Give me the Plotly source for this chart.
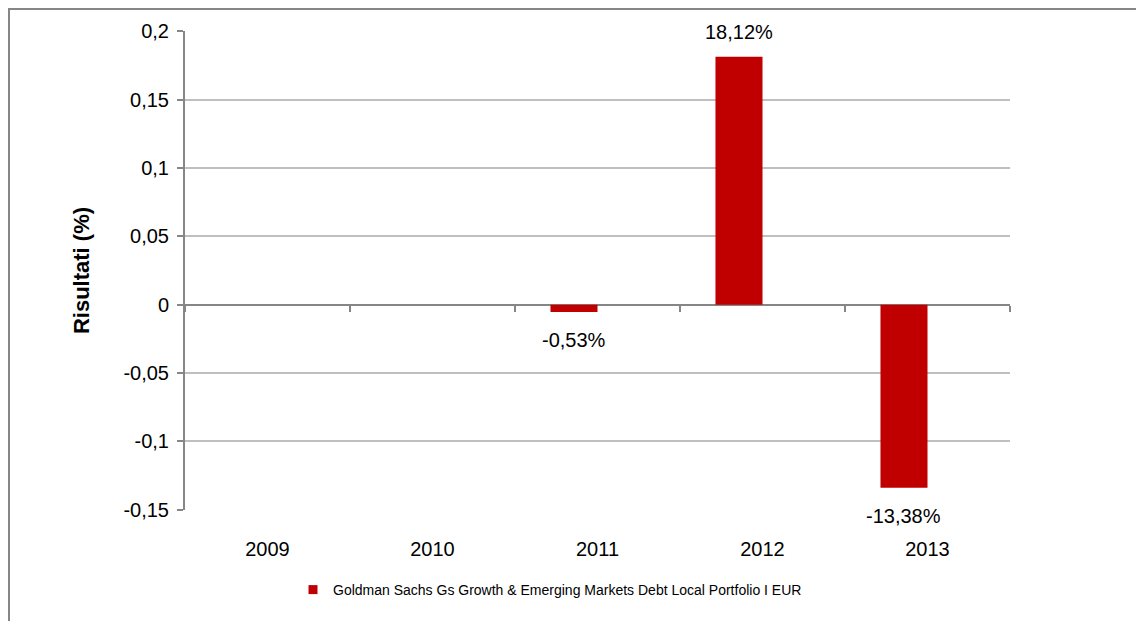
import plotly.graph_objects as go

years = ["2009", "2010", "2011", "2012", "2013"]
returns = [None, None, -0.0053, 0.1812, -0.1338]
series_name = "Goldman Sachs Gs Growth & Emerging Markets Debt Local Portfolio I EUR"
y_tickvals = [0.2, 0.15, 0.1, 0.05, 0, -0.05, -0.1, -0.15]
y_ticktext = ["0,2", "0,15", "0,1", "0,05", "0", "-0,05", "-0,1", "-0,15"]
y_range = [-0.1501, 0.2001]

def fmt(v):
    if v is None:
        return ""
    return ("%.2f%%" % (v * 100)).replace(".", ",")

labels = [fmt(v) for v in returns]

RED = "#C00000"
AXIS = "#868686"
GRID = "#BFBFBF"
FONT = "Liberation Sans, Arial, sans-serif"

# page body adds an 8px margin, so figure coords = screen coords - 8
OFF = 8
W, H = 1144, 621
pw, ph = 825, 479
L, T = 185 - OFF, 31 - OFF
R, B = W - L - pw, H - T - ph
BAR_W = 0.285
cat_px = pw / len(years)

fig = go.Figure()
fig.add_trace(go.Bar(
    x=years, y=returns,
    marker=dict(color=RED, line=dict(width=0)),
    width=BAR_W, offset=-BAR_W, cliponaxis=False, showlegend=False,
    name=series_name,
))
# legend entry (small square) and carrier for the zero-line tick axis
fig.add_trace(go.Scatter(
    x=years, y=[None] * len(years), xaxis="x2", mode="markers",
    marker=dict(symbol="square", size=9, color=RED),
    name=series_name, showlegend=True,
))

annotations = []
for i, (v, lab) in enumerate(zip(returns, labels)):
    if v is None:
        continue
    annotations.append(dict(
        x=i, y=v, xref="x", yref="y", text=lab, showarrow=False,
        xshift=-BAR_W / 2 * cat_px,
        yanchor="bottom" if v >= 0 else "top",
        yshift=12 if v >= 0 else -15,
        font=dict(size=20, color="black", family=FONT),
    ))

zero_pos = (0 - y_range[0]) / (y_range[1] - y_range[0])

fig.update_layout(
    width=W, height=H,
    margin=dict(l=L, r=R, t=T, b=B, autoexpand=False),
    paper_bgcolor="white", plot_bgcolor="white",
    font=dict(family=FONT, color="black", size=20),
    xaxis=dict(
        type="category", categoryorder="array", categoryarray=years,
        range=[-0.5, len(years) - 0.5],
        showline=False, showgrid=False, zeroline=False, ticks="",
        tickfont=dict(size=20), ticklabelstandoff=25,
    ),
    xaxis2=dict(
        type="category", categoryorder="array", categoryarray=years,
        range=[-0.5, len(years) - 0.5],
        overlaying="x", anchor="free", position=zero_pos,
        showticklabels=False, showgrid=False, showline=False, zeroline=False,
        ticks="outside", tickson="boundaries", ticklen=6, tickwidth=2,
        tickcolor=AXIS,
    ),
    yaxis=dict(
        range=y_range, tickvals=y_tickvals, ticktext=y_ticktext,
        showgrid=True, gridcolor=GRID, gridwidth=2,
        zeroline=True, zerolinecolor=AXIS, zerolinewidth=2,
        showline=True, linecolor=AXIS, linewidth=2,
        ticks="outside", ticklen=6, tickwidth=2, tickcolor=AXIS,
        tickfont=dict(size=20), ticklabelstandoff=4,
        title=dict(text="<b>Risultati (%)</b>", font=dict(size=22), standoff=28),
    ),
    legend=dict(
        orientation="h", x=(542 - L) / pw, xanchor="center",
        y=(T + ph - (590 - OFF)) / ph, yanchor="middle",
        font=dict(size=14), itemwidth=30, bgcolor="rgba(0,0,0,0)",
    ),
    annotations=annotations,
    shapes=[
        dict(type="line", xref="paper", yref="paper",
             x0=(1 - L) / pw, x1=(1 - L) / pw,
             y0=(T + ph) / ph, y1=(T + ph - 700) / ph,
             line=dict(color=AXIS, width=2)),
        dict(type="line", xref="paper", yref="paper",
             x0=(1 - L) / pw, x1=(1200 - L) / pw,
             y0=(T + ph - 1) / ph, y1=(T + ph - 1) / ph,
             line=dict(color=AXIS, width=2)),
    ],
)

fig.write_html("out.html")
